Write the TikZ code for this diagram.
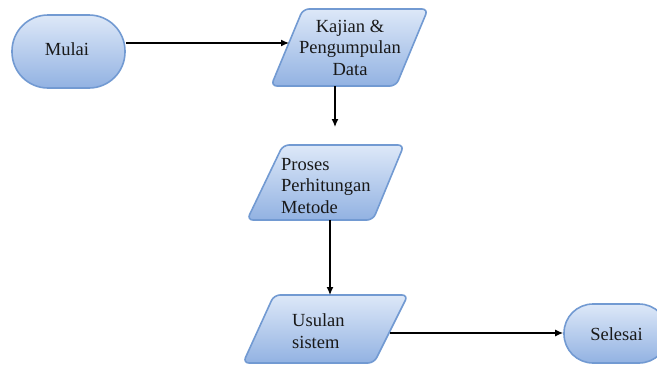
\documentclass[tikz,border=0pt]{standalone}
\usepackage{fontspec}
\setmainfont{Liberation Serif}
\usetikzlibrary{arrows.meta}
\definecolor{topc}{HTML}{DDE8F8}
\definecolor{botc}{HTML}{92B2E2}
\definecolor{edgec}{HTML}{729AD2}
\begin{document}
\begin{tikzpicture}[x=1pt,y=-1pt,
  shapebox/.style={draw=edgec, line width=1.6pt, top color=topc, bottom color=botc},
  terminal/.style={shapebox, inner sep=0pt},
  para/.style={shapebox, rounded corners=6pt},
  txt/.style={inner sep=0pt, text=black!90, font=\fontsize{18.5}{21.5}\selectfont},
  arr/.style={line width=1.3pt, -{Latex[length=8pt,width=7pt]}}]
\useasboundingbox (0,0) rectangle (657,365);
\clip (0,0) rectangle (657,365);

% Mulai
\node[terminal, rounded corners=36pt, minimum width=113pt, minimum height=73pt] (mulai) at (68.5,51.5) {};
\node[txt] (mulait) at (67,48.7) {Mulai};

% Kajian & Pengumpulan Data
\path[para] (303,9) -- (428,9) -- (396,86) -- (271,86) -- cycle;
\node[txt, align=center] (kaj) at (350,47.7) {Kajian \&\\Pengumpulan\\Data};
\coordinate (kajL) at (289,43);
\coordinate (kajB) at (335,86);
\coordinate (proArr) at (335,127);

% Proses Perhitungan Metode
\path[para] (283,145) -- (404,145) -- (373,220) -- (247,220) -- cycle;
\node[txt, align=left, anchor=west] (pro) at (281,186) {Proses\\Perhitungan\\Metode};
\coordinate (proB) at (330,220);

% Usulan sistem
\path[para] (274,295) -- (408,295) -- (374,363) -- (243,363) -- cycle;
\node[txt, align=left, anchor=west] (usu) at (292,331) {Usulan\\sistem};
\coordinate (usuT) at (330,295);
\coordinate (usuR) at (390,333);

% Selesai
\node[terminal, rounded corners=29pt, minimum width=104pt, minimum height=59pt] (sel) at (616,333.5) {};
\node[txt] (selt) at (616.5,333.7) {Selesai};

% connectors
\draw[arr] (mulai.east |- kajL) -- (kajL);
\draw[arr] (kajB) -- (proArr);
\draw[arr] (proB) -- (usuT);
\draw[arr] (usuR) -- (sel.west |- usuR);
\end{tikzpicture}
\end{document}
